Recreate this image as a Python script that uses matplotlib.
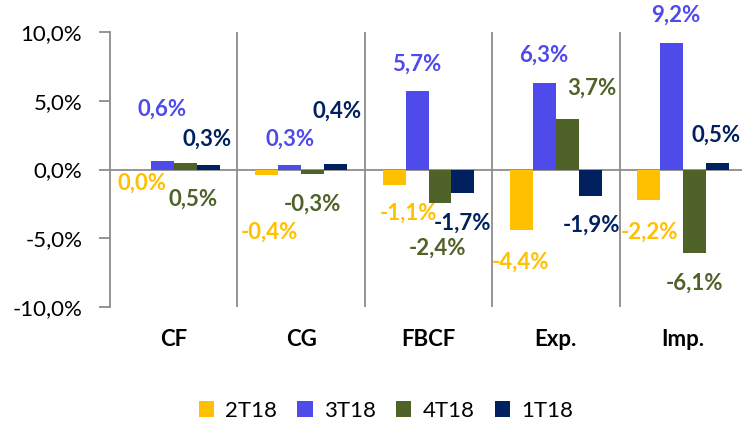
"""contributions by quarter"""
import numpy as np
import matplotlib
matplotlib.use("Agg")
import matplotlib.pyplot as plt

plt.rcParams["font.family"] = ["Lato", "DejaVu Sans"]

categories = ["CF", "CG", "FBCF", "Exp.", "Imp."]
series = ["2T18", "3T18", "4T18", "1T18"]
v_2t18 = [0.0, -0.4, -1.1, -4.4, -2.2]
v_3t18 = [0.6, 0.3, 5.7, 6.3, 9.2]
v_4t18 = [0.5, -0.3, -2.4, 3.7, -6.1]
v_1t18 = [0.3, 0.4, -1.7, -1.9, 0.5]
colors = ["#FFC000", "#4F4BEB", "#4F6228", "#002060"]

# label offsets (pixels) from the end of each bar
offs = [
    [(3, -14), (3, -57), (14, -29), (-1, -32), (1, -32)],
    [(0, 52), (0, 26), (0, 27), (-1, 28), (4, 28)],
    [(8, -37), (0, -31), (-2, -46), (24, 30), (0, -30)],
    [(-1, 26), (2, 53), (0, -30), (1, -30), (-2, 27)],
]

data = [v_2t18, v_3t18, v_4t18, v_1t18]
x = np.arange(len(categories))
w = 0.18

fig = plt.figure(figsize=(7.42, 4.22), dpi=100)
ax = fig.add_axes([110 / 742, 1 - 307 / 422, 637 / 742, 275 / 422])

for i, (vals, c) in enumerate(zip(data, colors)):
    xs = x + (i - 1.5) * w
    ax.bar(xs, vals, w, color=c, label=series[i], zorder=3)
    for xi, v, (dx, dy) in zip(xs, vals, offs[i]):
        txt = ("%.1f%%" % v).replace(".", ",")
        ax.annotate(txt, (xi, v), xytext=(dx, dy), textcoords="offset pixels",
                    ha="center", va="center", color=c, fontsize=16,
                    fontweight="bold", annotation_clip=False, zorder=4)

ax.set_xlim(-0.5, 4.5)
ax.set_ylim(-10, 10)
ax.set_yticks([-10, -5, 0, 5, 10])
ax.set_yticklabels([("%.1f%%" % t).replace(".", ",") for t in [-10, -5, 0, 5, 10]],
                   fontsize=16)
ax.tick_params(axis="y", length=8, width=1.3, color="#8c8c8c", pad=12)
ax.set_xticks([])

for s in ["top", "right", "bottom"]:
    ax.spines[s].set_visible(False)
ax.spines["left"].set_color("#8c8c8c")
ax.spines["left"].set_linewidth(1.3)

ax.axhline(0, color="#8c8c8c", lw=1.3, zorder=2)
for b in x[:-1] + 0.5:
    ax.axvline(b, color="#8c8c8c", lw=1.3, zorder=1)
ax.axvline(4.5, color="#8c8c8c", lw=1.3, zorder=1)

for xi, cat in zip(x, categories):
    ax.annotate(cat, (xi, -10), xytext=(0, -33), textcoords="offset pixels",
                ha="center", va="center", fontsize=16, fontweight="bold",
                annotation_clip=False)

fig.legend(loc="lower center", bbox_to_anchor=(0.52, -0.045), ncol=4,
           frameon=False, fontsize=16, handlelength=0.7, handleheight=0.7,
           columnspacing=0.9, handletextpad=0.5)

plt.savefig("out.png", dpi=100)
